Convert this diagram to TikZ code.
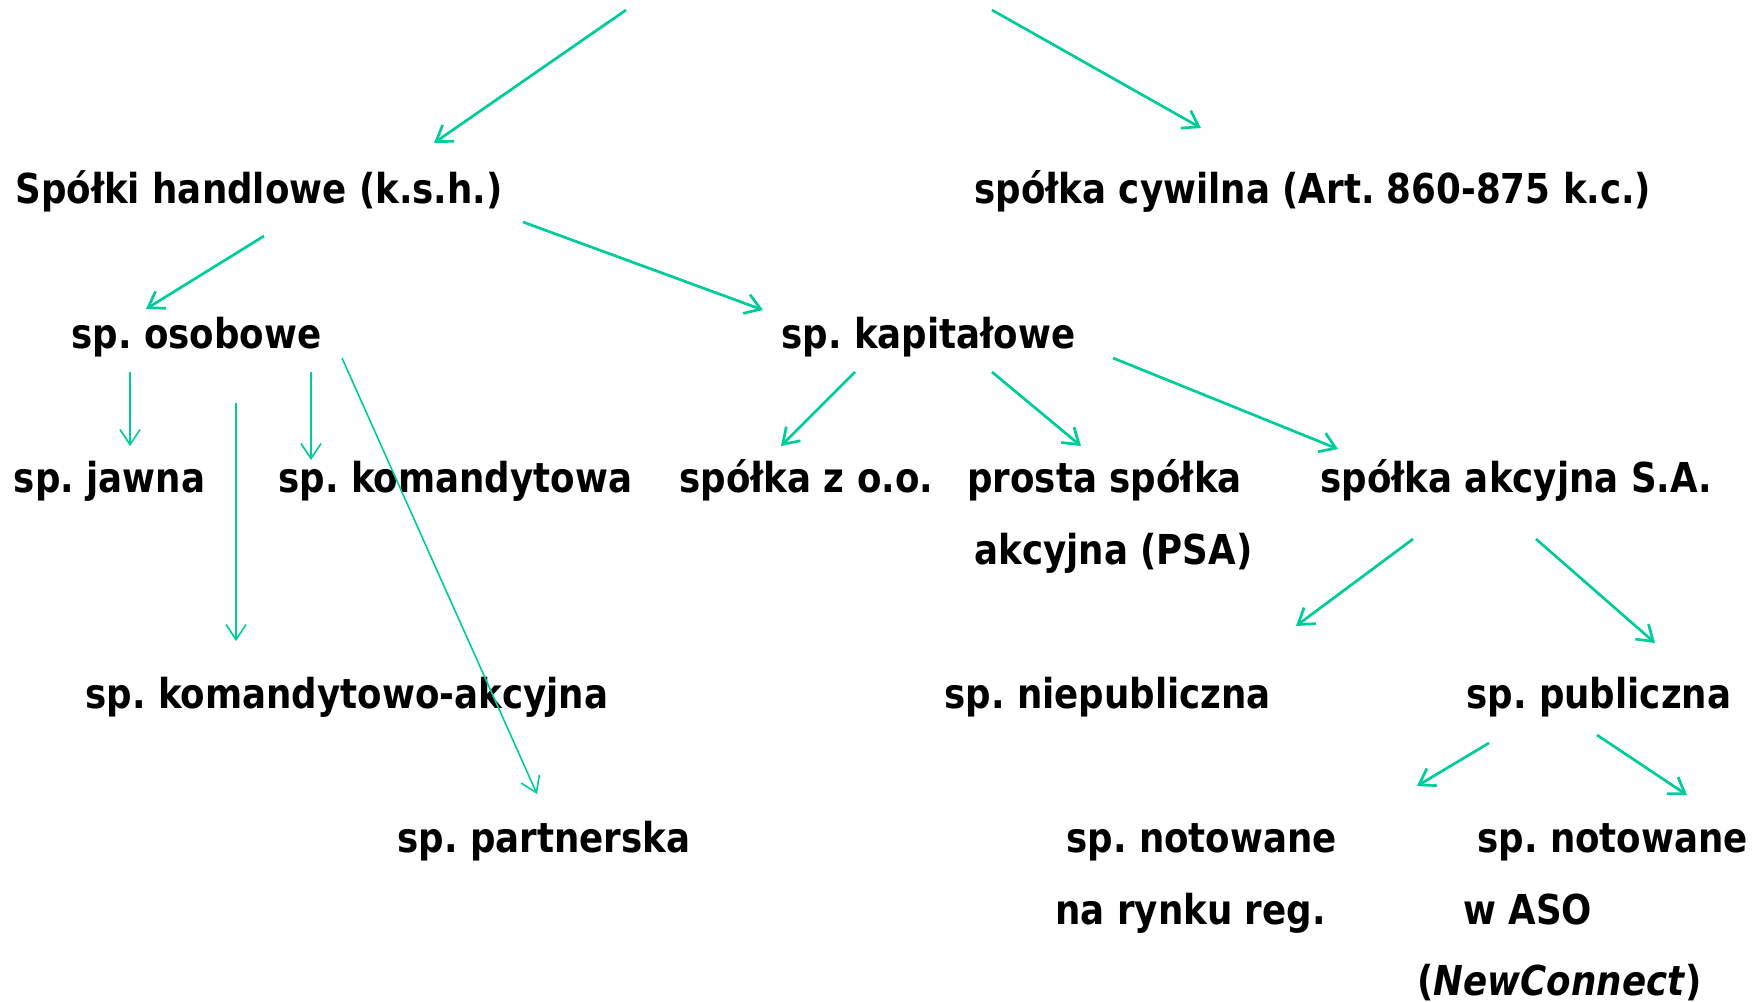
\documentclass[tikz,border=0pt]{standalone}
\usepackage{fontspec}
\setmainfont{DejaVu Sans}[FakeStretch=0.865]
\usetikzlibrary{arrows.meta}
\definecolor{arrowgreen}{RGB}{0,204,153}
\frenchspacing
\begin{document}
\begin{tikzpicture}[x=0.5pt,y=-0.5pt,
  lbl/.style={anchor=base west,inner sep=0pt,font=\fontsize{20.6}{24}\selectfont\bfseries},
  arr/.style={draw=arrowgreen,line width=1.35pt,-{Straight Barb[length=7.5pt,width=10pt]}},
  arrthin/.style={arr,line width=0.8pt}]
\useasboundingbox (0,0) rectangle (1763,1002);
% labels
\node[lbl] (ksh) at (15,203) {Spółki handlowe (k.s.h.)};
\node[lbl] (cyw) at (974,203) {spółka cywilna (Art. 860-875 k.c.)};
\node[lbl] (oso) at (71,348.6) {sp. osobowe};
\node[lbl] (kap) at (781,348.6) {sp. kapitałowe};
\node[lbl] (jaw) at (13.5,492.5) {sp. jawna};
\node[lbl] (kom) at (278,492.5) {sp. komandytowa};
\node[lbl] (zoo) at (679,492.5) {spółka z o.o.};
\node[lbl] (psa1) at (967,492.5) {prosta spółka};
\node[lbl] (psa2) at (974,564.5) {akcyjna (PSA)};
\node[lbl] (sa) at (1320,492.5) {spółka akcyjna S.A.};
\node[lbl] (ska) at (85,708) {sp. komandytowo-akcyjna};
\node[lbl] (niep) at (944,708) {sp. niepubliczna};
\node[lbl] (pub) at (1466,708) {sp. publiczna};
\node[lbl] (part) at (397,852) {sp. partnerska};
\node[lbl] (rr1) at (1066,852) {sp. notowane};
\node[lbl] (rr2) at (1055,924) {na rynku reg.};
\node[lbl] (aso1) at (1477,852) {sp. notowane};
\node[lbl] (aso2) at (1463,924) {w ASO};
\node[lbl] (aso3) at (1417,995) {(\textit{NewConnect})};
% connector end points
\coordinate (t1s) at (626,10);   \coordinate (t1e) at (434,143);
\coordinate (t2s) at (992,10);   \coordinate (t2e) at (1201,128);
\coordinate (k1s) at (264,236);  \coordinate (k1e) at (146,309);
\coordinate (k2s) at (523,222);  \coordinate (k2e) at (763,310);
\coordinate (o1s) at (130,372);  \coordinate (o1e) at (130,446);
\coordinate (o2s) at (236,403);  \coordinate (o2e) at (236,641);
\coordinate (o3s) at (311,372);  \coordinate (o3e) at (311,460);
\coordinate (o4s) at (342,358);  \coordinate (o4e) at (537,794);
\coordinate (c1s) at (855,372);  \coordinate (c1e) at (781,446);
\coordinate (c2s) at (992,372);  \coordinate (c2e) at (1081,446);
\coordinate (c3s) at (1113,358); \coordinate (c3e) at (1338,449);
\coordinate (s1s) at (1413,539); \coordinate (s1e) at (1296,626);
\coordinate (s2s) at (1536,539); \coordinate (s2e) at (1655,643);
\coordinate (p1s) at (1489,743); \coordinate (p1e) at (1417,786);
\coordinate (p2s) at (1597,735); \coordinate (p2e) at (1687,795);
% connectors
\draw[arr] (t1s) -- (t1e);
\draw[arr] (t2s) -- (t2e);
\draw[arr] (k1s) -- (k1e);
\draw[arr] (k2s) -- (k2e);
\draw[arrthin] (o1s) -- (o1e);
\draw[arrthin] (o2s) -- (o2e);
\draw[arrthin] (o3s) -- (o3e);
\draw[arrthin] (o4s) -- (o4e);
\draw[arr] (c1s) -- (c1e);
\draw[arr] (c2s) -- (c2e);
\draw[arr] (c3s) -- (c3e);
\draw[arr] (s1s) -- (s1e);
\draw[arr] (s2s) -- (s2e);
\draw[arr] (p1s) -- (p1e);
\draw[arr] (p2s) -- (p2e);
\end{tikzpicture}
\end{document}
